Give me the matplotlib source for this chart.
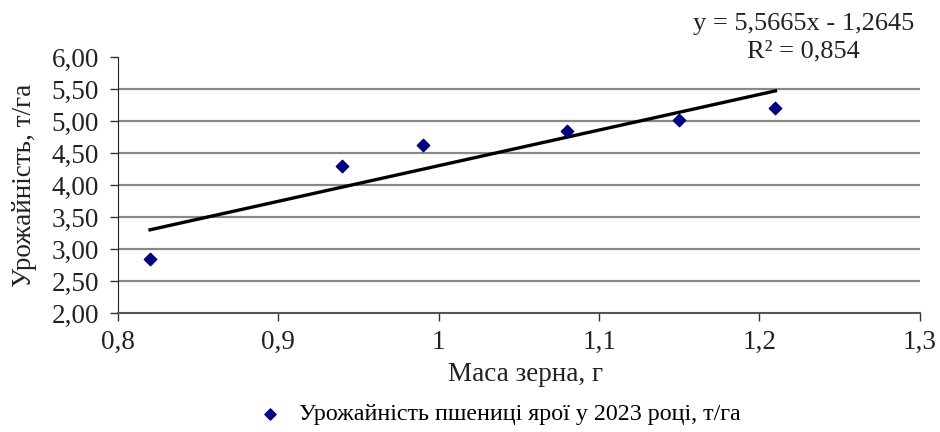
import numpy as np
import matplotlib.pyplot as plt

plt.rcParams['font.family'] = ['Liberation Serif', 'DejaVu Serif']

# маса зерна, г  /  урожайність, т/га
masa = [0.82, 0.94, 0.99, 1.08, 1.15, 1.21]
urozh = [2.84, 4.30, 4.62, 4.85, 5.02, 5.20]
# лінійний тренд з діаграми
k = 5.5665
b = -1.2645
r2 = 0.854

yticks = [2.0, 2.5, 3.0, 3.5, 4.0, 4.5, 5.0, 5.5, 6.0]
xticks = [0.8, 0.9, 1.0, 1.1, 1.2, 1.3]

fig = plt.figure(figsize=(9.4, 4.32), dpi=100)
ax = fig.add_axes([0.1255, 0.2755, 0.853, 0.5925])

for yv in yticks[1:-1]:
    ax.axhline(yv, color='#888888', lw=1.6, zorder=0)

xt = np.array([min(masa), max(masa)])
ax.plot(xt, k * xt + b, color='black', lw=2.4, zorder=2)
ax.scatter(masa, urozh, marker='D', s=40, color='#000080', zorder=3,
           label='Урожайність пшениці ярої у 2023 році, т/га')

ax.set_xlim(0.8, 1.3)
ax.set_ylim(2.0, 6.0)
ax.set_xticks(xticks)
ax.set_xticklabels(['0,8', '0,9', '1', '1,1', '1,2', '1,3'])
ax.set_yticks(yticks)
ax.set_yticklabels([('%.2f' % v).replace('.', ',') for v in yticks])
ax.tick_params(labelsize=19.5, length=5.5, width=1, colors='#333333', labelcolor='#222222')
ax.tick_params(axis='y', pad=8)
ax.tick_params(axis='x', pad=7)

for s in ['top', 'right']:
    ax.spines[s].set_visible(False)
ax.spines['left'].set_color('#222222')
ax.spines['bottom'].set_color('#555555')
ax.spines['bottom'].set_linewidth(1.5)

ax.set_xlabel('Маса зерна, г', fontsize=19.5, color='#222222', va='center')
ax.xaxis.set_label_coords(0.508, -0.242)
ax.set_ylabel('Урожайність, т/га', fontsize=19.5, color='#222222', va='center')
ax.yaxis.set_label_coords(-0.116, 0.5)

fig.text(0.855, 0.944, 'y = 5,5665x - 1,2645', fontsize=19, ha='center', va='center', color='#222222')
fig.text(0.855, 0.88, 'R² = 0,854', fontsize=19, ha='center', va='center', color='#222222')

ax.legend(loc='center', bbox_to_anchor=(0.468, -0.395), frameon=False,
          fontsize=17.3, handletextpad=0.2, markerscale=0.9, borderpad=0)

fig.savefig('out.png', dpi=100)
